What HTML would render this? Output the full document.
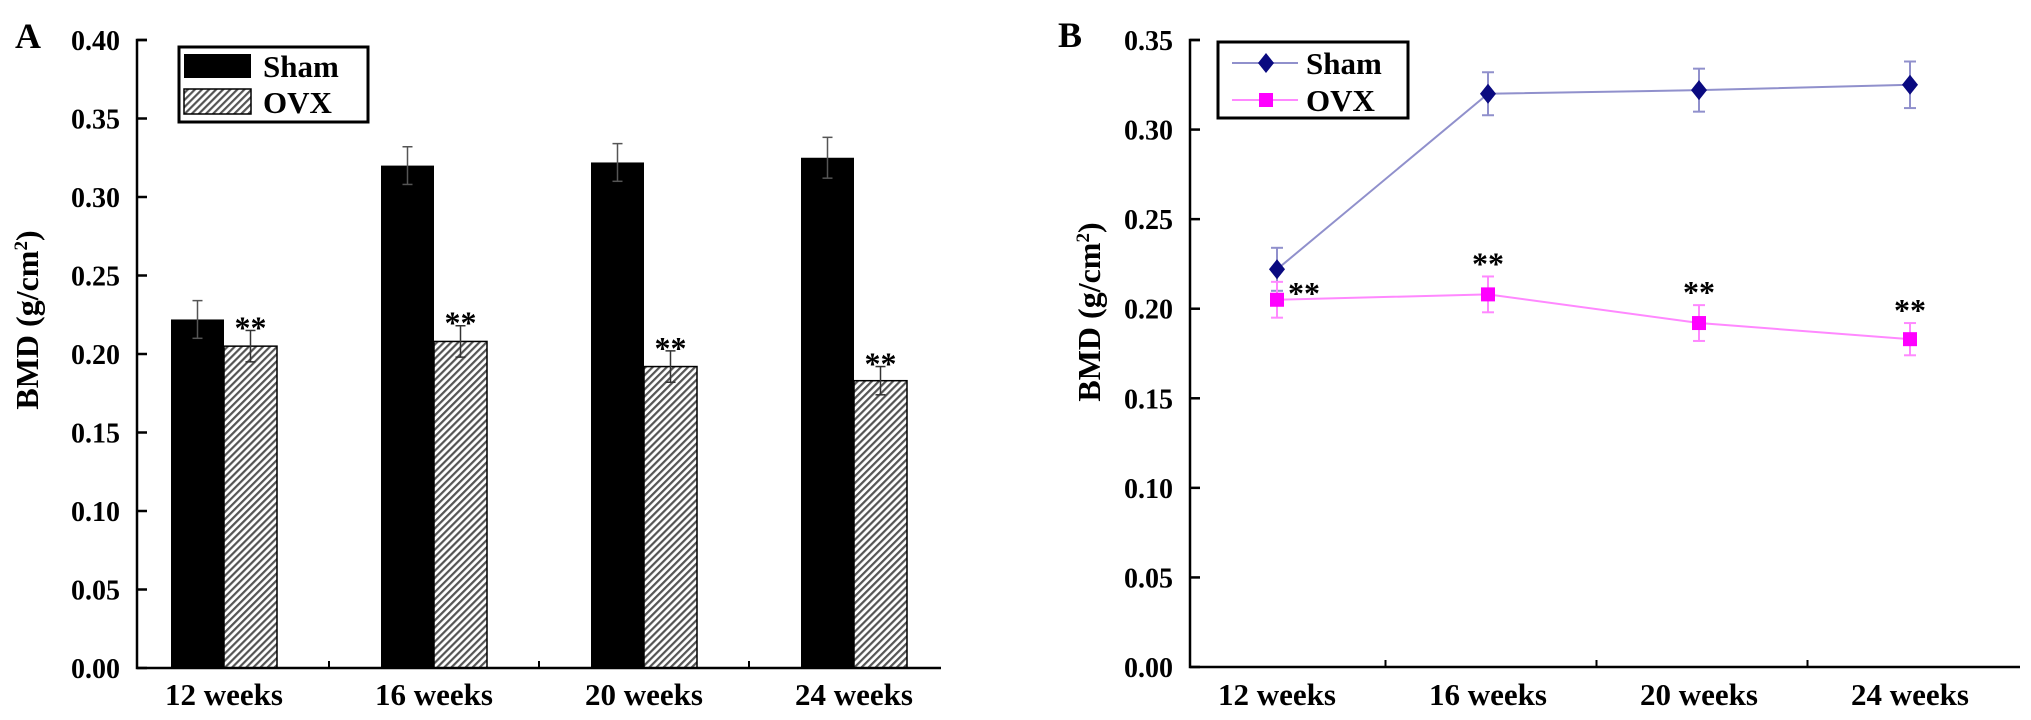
<!DOCTYPE html>
<html><head><meta charset="utf-8"><style>
html,body{margin:0;padding:0;background:#fff;}
svg{display:block;font-family:"Liberation Serif",serif;font-weight:bold;}
</style></head><body>
<svg id="c" width="2031" height="720" viewBox="0 0 2031 720" xmlns="http://www.w3.org/2000/svg">
<defs>
<pattern id="hatch" patternUnits="userSpaceOnUse" width="5" height="5" patternTransform="rotate(45)">
<rect width="5" height="5" fill="#fff"/>
<rect width="2.2" height="5" fill="#555"/>
</pattern>
</defs>
<g id="pa"></g>
<g id="pb"></g>
</svg>
<script>
const categories = ["12 weeks", "16  weeks", "20  weeks", "24  weeks"];
const shamValues = [0.222, 0.320, 0.322, 0.325];
const shamErrors = [0.012, 0.012, 0.012, 0.013];
const ovxValues = [0.205, 0.208, 0.192, 0.183];
const ovxErrors = [0.010, 0.010, 0.010, 0.009];
const yTicksA = [0.00, 0.05, 0.10, 0.15, 0.20, 0.25, 0.30, 0.35, 0.40];
const yTicksB = [0.00, 0.05, 0.10, 0.15, 0.20, 0.25, 0.30, 0.35];

const NS = "http://www.w3.org/2000/svg";
function mk(parent, tag, attrs, text) {
  const e = document.createElementNS(NS, tag);
  for (const k in attrs) e.setAttribute(k, attrs[k]);
  if (text !== undefined) e.textContent = text;
  parent.appendChild(e);
  return e;
}

// ---------- Panel A ----------
const pa = document.getElementById('pa');
const A = {x0: 137, x1: 941, y0: 668, yTop: 40, max: 0.40, c0: 224, step: 210, bw: 53};
const yA = v => A.y0 - (v / A.max) * (A.y0 - A.yTop);
const xA = i => A.c0 + i * A.step;

let t = mk(pa, 'text', {x: 15, y: 48, 'font-size': 36}, 'A');



categories.forEach((c, i) => {
  const cx = xA(i);
  let r = mk(pa, 'rect', {x: cx - A.bw, y: yA(shamValues[i]), width: A.bw, height: A.y0 - yA(shamValues[i]), fill: '#000'});
  
  
  r = mk(pa, 'rect', {x: cx, y: yA(ovxValues[i]), width: A.bw, height: A.y0 - yA(ovxValues[i]), fill: 'url(#hatch)', stroke: '#000', 'stroke-width': 1.5});
  
  
  [[cx - A.bw / 2, shamValues[i], shamErrors[i], '#555'], [cx + A.bw / 2, ovxValues[i], ovxErrors[i], '#333']].forEach(([ex, v, e, col], k) => {
    const g = mk(pa, 'g', {stroke: col, 'stroke-width': 1.5});
    
    
    mk(g, 'line', {x1: ex, x2: ex, y1: yA(v + e), y2: yA(v - e)});
    mk(g, 'line', {x1: ex - 5, x2: ex + 5, y1: yA(v + e), y2: yA(v + e)});
    mk(g, 'line', {x1: ex - 5, x2: ex + 5, y1: yA(v - e), y2: yA(v - e)});
  });
  const s = mk(pa, 'text', {x: cx + A.bw / 2, y: yA(ovxValues[i] + ovxErrors[i]) + 8, 'font-size': 32, 'text-anchor': 'middle'}, '**');
  
  
  const l = mk(pa, 'text', {x: cx, y: 705, 'font-size': 31, 'text-anchor': 'middle'}, c);
  
  
  if (i > 0) {
    const tk = mk(pa, 'line', {x1: cx - A.step / 2, x2: cx - A.step / 2, y1: A.y0, y2: A.y0 - 7, stroke: '#000', 'stroke-width': 2});
    
    
  }
});
let ax = mk(pa, 'path', {d: `M${A.x0 + 10},${A.yTop} H${A.x0} V${A.y0} H${A.x1}`, fill: 'none', stroke: '#000', 'stroke-width': 2.5});


yTicksA.forEach(v => {
  const tk = mk(pa, 'line', {x1: A.x0, x2: A.x0 + 10, y1: yA(v), y2: yA(v), stroke: '#000', 'stroke-width': 2.5});
  
  
  const l = mk(pa, 'text', {x: 120, y: yA(v) + 10, 'font-size': 28, 'text-anchor': 'end'}, v.toFixed(2));
  
  
});
let yt = mk(pa, 'text', {x: 0, y: 0, 'font-size': 32, 'text-anchor': 'middle', transform: 'translate(38,320) rotate(-90)'});


yt.innerHTML = 'BMD (g/cm<tspan font-size="19" dy="-11">2</tspan><tspan dy="11">)</tspan>';
// legend A
const lgA = mk(pa, 'g', {});


mk(lgA, 'rect', {x: 179, y: 47, width: 189, height: 75, fill: '#fff', stroke: '#000', 'stroke-width': 3});
mk(lgA, 'rect', {x: 184, y: 54, width: 67, height: 24, fill: '#000'});
mk(lgA, 'rect', {x: 184, y: 89, width: 67, height: 25, fill: 'url(#hatch)', stroke: '#000', 'stroke-width': 1.5});
mk(lgA, 'text', {x: 263, y: 77, 'font-size': 31}, 'Sham');
mk(lgA, 'text', {x: 263, y: 113, 'font-size': 31}, 'OVX');

// ---------- Panel B ----------
const pb = document.getElementById('pb');
const B = {x0: 1190, x1: 2020, y0: 667, yTop: 40, max: 0.35, c0: 1277, step: 211};
const yB = v => B.y0 - (v / B.max) * (B.y0 - B.yTop);
const xB = i => B.c0 + i * B.step;

t = mk(pb, 'text', {x: 1058, y: 47, 'font-size': 36}, 'B');



let ax2 = mk(pb, 'path', {d: `M${B.x0 + 10},${B.yTop} H${B.x0} V${B.y0} H${B.x1}`, fill: 'none', stroke: '#000', 'stroke-width': 2.5});


yTicksB.forEach(v => {
  const tk = mk(pb, 'line', {x1: B.x0, x2: B.x0 + 10, y1: yB(v), y2: yB(v), stroke: '#000', 'stroke-width': 2.5});
  
  
  const l = mk(pb, 'text', {x: 1173, y: yB(v) + 10, 'font-size': 28, 'text-anchor': 'end'}, v.toFixed(2));
  
  
});
categories.forEach((c, i) => {
  const l = mk(pb, 'text', {x: xB(i), y: 705, 'font-size': 31, 'text-anchor': 'middle'}, c);
  
  
  if (i > 0) {
    const tk = mk(pb, 'line', {x1: xB(i) - B.step / 2 + 3, x2: xB(i) - B.step / 2 + 3, y1: B.y0, y2: B.y0 - 7, stroke: '#000', 'stroke-width': 2});
    
    
  }
});
yt = mk(pb, 'text', {x: 0, y: 0, 'font-size': 32, 'text-anchor': 'middle', transform: 'translate(1100,312) rotate(-90)'});


yt.innerHTML = 'BMD (g/cm<tspan font-size="19" dy="-11">2</tspan><tspan dy="11">)</tspan>';

function series(vals, errs, lineCol, markCol, shape, name) {
  const g = mk(pb, 'g', {});
  
  
  const pts = vals.map((v, i) => xB(i) + ',' + yB(v)).join(' ');
  mk(g, 'polyline', {points: pts, fill: 'none', stroke: lineCol, 'stroke-width': 2});
  vals.forEach((v, i) => {
    const x = xB(i);
    const eg = mk(g, 'g', {stroke: lineCol, 'stroke-width': 2});
    
    
    mk(eg, 'line', {x1: x, x2: x, y1: yB(v + errs[i]), y2: yB(v - errs[i])});
    mk(eg, 'line', {x1: x - 6, x2: x + 6, y1: yB(v + errs[i]), y2: yB(v + errs[i])});
    mk(eg, 'line', {x1: x - 6, x2: x + 6, y1: yB(v - errs[i]), y2: yB(v - errs[i])});
    let m;
    if (shape === 'diamond') {
      const y = yB(v);
      m = mk(g, 'polygon', {points: `${x},${y - 10} ${x + 8},${y} ${x},${y + 10} ${x - 8},${y}`, fill: markCol});
    } else {
      m = mk(g, 'rect', {x: x - 7, y: yB(v) - 7, width: 14, height: 14, fill: markCol});
    }
    
    
  });
}
series(shamValues, shamErrors, '#9090cc', '#0a0a80', 'diamond', 'line-sham');
series(ovxValues, ovxErrors, '#ff88ff', '#ff00ff', 'square', 'line-ovx');
ovxValues.forEach((v, i) => {
  const sx = i === 0 ? xB(i) + 27 : xB(i);
  const sy = i === 0 ? yB(v) + 4 : yB(v + ovxErrors[i]) - 2;
  const s = mk(pb, 'text', {x: sx, y: sy, 'font-size': 32, 'text-anchor': 'middle'}, '**');
  
  
});
// legend B
const lgB = mk(pb, 'g', {});


mk(lgB, 'rect', {x: 1218, y: 42, width: 190, height: 76, fill: '#fff', stroke: '#000', 'stroke-width': 3});
mk(lgB, 'line', {x1: 1232, x2: 1298, y1: 63, y2: 63, stroke: '#9090cc', 'stroke-width': 2});
mk(lgB, 'polygon', {points: '1266,53 1274,63 1266,73 1258,63', fill: '#0a0a80'});
mk(lgB, 'line', {x1: 1232, x2: 1298, y1: 100, y2: 100, stroke: '#ff88ff', 'stroke-width': 2});
mk(lgB, 'rect', {x: 1259, y: 93, width: 14, height: 14, fill: '#ff00ff'});
mk(lgB, 'text', {x: 1306, y: 74, 'font-size': 31}, 'Sham');
mk(lgB, 'text', {x: 1306, y: 111, 'font-size': 31}, 'OVX');
</script>
</body></html>
